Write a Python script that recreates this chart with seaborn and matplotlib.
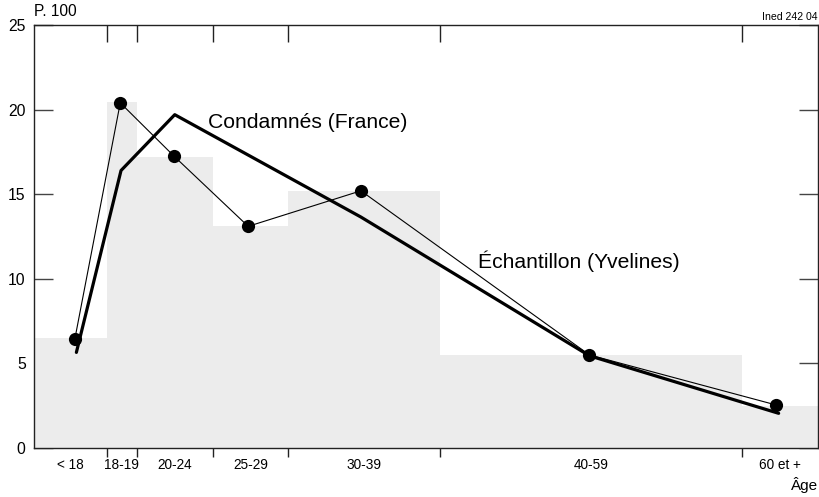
import numpy as np
import pandas as pd
import seaborn as sns
import matplotlib.pyplot as plt

# ******************
# data
# ******************
age_groups = ['< 18', '18-19', '20-24', '25-29', '30-39', '40-59', '60 et +']
bin_edges = [13.2, 18, 20, 25, 30, 40, 60, 65.0]
bar_values = [6.5, 20.45, 17.2, 13.1, 15.2, 5.5, 2.5]

sample_x = [15.9, 18.9, 22.45, 27.35, 34.8, 49.9, 62.2]
sample_y = [6.45, 20.4, 17.25, 13.1, 15.2, 5.5, 2.55]

france_x = [16.0, 18.95, 22.5, 34.8, 49.9, 62.4]
france_y = [5.65, 16.4, 19.7, 13.65, 5.45, 2.05]

y_ticks = [0, 5, 10, 15, 20, 25]

# ******************
# plot
# ******************
sns.set_theme(style='white')
plt.rcParams['font.family'] = ['Liberation Sans', 'DejaVu Sans']
plt.rcParams['text.color'] = 'black'
plt.rcParams['xtick.color'] = 'black'
plt.rcParams['ytick.color'] = 'black'

fig = plt.figure(figsize=(8.2, 4.97), dpi=100)
ax = fig.add_axes([34 / 820, 49 / 497, 784 / 820, 423 / 497])

# grey histogram behind the lines
edges = np.array(bin_edges)
ax.bar(edges[:-1], bar_values, width=np.diff(edges), align='edge',
       color='#ececec', linewidth=0, zorder=1)

france = pd.DataFrame({'age': france_x, 'pct': france_y})
sample = pd.DataFrame({'age': sample_x, 'pct': sample_y})

sns.lineplot(data=france, x='age', y='pct', sort=False, color='black',
             linewidth=2.3, ax=ax, zorder=3)
sns.lineplot(data=sample, x='age', y='pct', sort=False, color='black',
             linewidth=0.8, marker='o', markersize=9.5, markeredgewidth=0,
             ax=ax, zorder=4)

ax.set_xlim(bin_edges[0], bin_edges[-1])
ax.set_ylim(0, 25)
ax.set_xlabel('')
ax.set_ylabel('')

# boundaries as ticks, group names centred in each bin
centres = (edges[:-1] + edges[1:]) / 2
ax.set_xticks(bin_edges[1:-1])
ax.set_xticklabels([])
ax.set_xticks(centres, minor=True)
ax.set_xticklabels(age_groups, minor=True, fontsize=9.8)
ax.tick_params(axis='x', which='major', direction='in', length=12.5,
               width=1, color='#222222', top=True, bottom=True)
ax.tick_params(axis='x', which='minor', length=0, pad=7)

# small stubs of the boundary ticks below the axis
sec = ax.secondary_xaxis('bottom')
sec.set_xticks(bin_edges[1:-1])
sec.tick_params(direction='out', length=6.5, width=1, color='#222222',
                bottom=True, labelbottom=False)
sec.spines['bottom'].set_visible(False)

ax.set_yticks(y_ticks)
ax.tick_params(axis='y', direction='in', length=13.5, width=1,
               color='#444444', left=True, right=True, labelsize=11.3,
               pad=6, labelcolor='black')

for s in ax.spines.values():
    s.set_visible(True)
    s.set_color('#222222')
    s.set_linewidth(1)

# annotations placed in pixel space of the figure
fig.text(208 / 820, 1 - 128 / 497, 'Condamnés (France)', fontsize=15.2,
         va='baseline', ha='left')
fig.text(478 / 820, 1 - 268 / 497, 'Échantillon (Yvelines)', fontsize=15.2,
         va='baseline', ha='left')
fig.text(34 / 820, 1 - 11 / 497, 'P. 100', fontsize=11.2, va='center', ha='left')
fig.text(818 / 820, 1 - 17 / 497, 'Ined 242 04', fontsize=7.6,
         va='center', ha='right')
fig.text(818 / 820, 1 - 485 / 497, 'Âge', fontsize=11, va='center', ha='right')

fig.savefig('out.png', dpi=100)
